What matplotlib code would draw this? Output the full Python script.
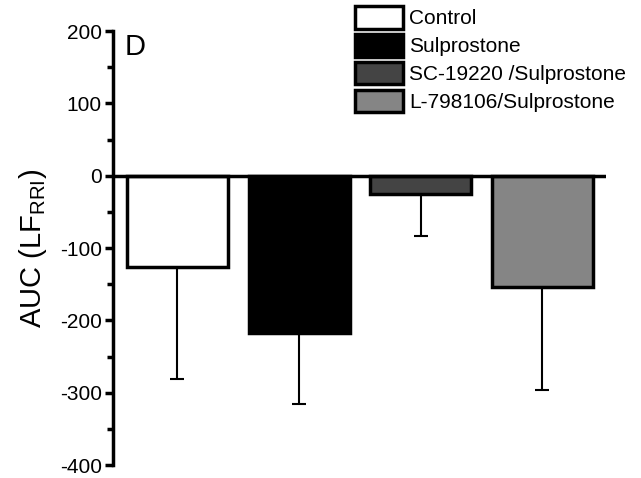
import matplotlib
matplotlib.use('Agg')
import matplotlib.pyplot as plt
import numpy as np

plt.rcParams['font.family'] = ['Liberation Sans', 'DejaVu Sans']
plt.rcParams['mathtext.fontset'] = 'custom'
plt.rcParams['mathtext.rm'] = 'Liberation Sans'
plt.rcParams['axes.unicode_minus'] = False

groups = ['Control', 'Sulprostone', 'SC-19220 /Sulprostone', 'L-798106/Sulprostone']
means = [-126, -217, -25, -154]
errs = [155, 98, 58, 142]
colors = ['#ffffff', '#000000', '#444444', '#858585']

fig = plt.figure(figsize=(6.41, 4.78), dpi=100)
ax = fig.add_axes([0.176, 0.027, 0.769, 0.908])

x = np.arange(len(groups))
bars = ax.bar(x, means, width=0.83, color=colors, edgecolor='black', linewidth=2.5,
              label=groups, zorder=2)
ax.errorbar(x, means, yerr=[errs, np.zeros(len(errs))], fmt='none', ecolor='black',
            elinewidth=1.5, capsize=5, capthick=1.5, zorder=1)
ax.axhline(0, color='black', linewidth=2.5, zorder=3)

ax.set_xlim(-0.53, 3.52)
ax.set_ylim(-400, 200)
ax.set_yticks(range(-400, 201, 100))
ax.set_yticks(range(-350, 200, 100), minor=True)
ax.set_xticks([])
for s in ['top', 'right', 'bottom']:
    ax.spines[s].set_visible(False)
ax.spines['left'].set_linewidth(2.5)
ax.tick_params(axis='y', which='major', length=6, width=2.5, labelsize=15, pad=2)
ax.tick_params(axis='y', which='minor', length=4, width=2.5)
ax.set_ylabel('AUC (LF$_{\\mathregular{RRI}}$)', fontsize=21, labelpad=8)

ax.text(0.024, 0.995, 'D', transform=ax.transAxes, fontsize=21, va='top', ha='left')

fig.legend(bars, groups, loc='upper right', bbox_to_anchor=(0.99, 1.005), frameon=False,
           fontsize=15, handlelength=2.3, handleheight=1.3, handletextpad=0.3,
           labelspacing=0.25, borderaxespad=0)

fig.savefig('out.png', dpi=100)
